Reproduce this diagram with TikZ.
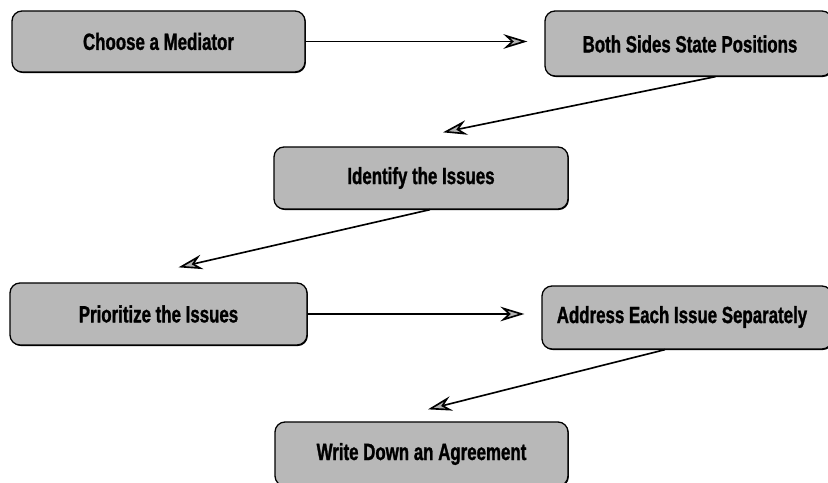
\documentclass[tikz,border=0pt]{standalone}
\usepackage{fontspec}
\newfontfamily\boxfont[FakeStretch=0.72,FakeBold=1.2]{Liberation Sans}
\usetikzlibrary{arrows.meta,calc,shadows}
\begin{document}
\begin{tikzpicture}[x=0.03cm,y=-0.03cm,
  boxtext/.style={font=\boxfont\bfseries\fontsize{20}{23}\selectfont},
  stepbox/.style={draw=black, line width=1.1pt, fill=black!28, rounded corners=0.3cm,
    drop shadow={shadow xshift=0.7pt, shadow yshift=-0.9pt, fill=black, opacity=1},
    boxtext, inner sep=0pt},
  flow/.style={line width=1.4pt, -{Stealth[length=0.72cm, width=0.44cm, inset=0.24cm, fill=black!30]}}]
\useasboundingbox (0,0) rectangle (828,483);
\node[stepbox, minimum width=293*0.03cm, minimum height=61*0.03cm] (b1) at (158.5,41.5) {Choose a Mediator};
\node[stepbox, minimum width=287*0.03cm, minimum height=65*0.03cm] (b2) at (688.5,43.5) {};
\node[boxtext] (t2) at (690,44) {Both Sides State Positions};
\node[stepbox, minimum width=294*0.03cm, minimum height=62*0.03cm] (b3) at (421,178) {Identify the Issues};
\node[stepbox, minimum width=297*0.03cm, minimum height=62*0.03cm] (b4) at (158.5,314) {Prioritize the Issues};
\node[stepbox, minimum width=290*0.03cm, minimum height=63*0.03cm] (b5) at (687,317.5) {};
\node[boxtext] (t5) at (682,317) {Address Each Issue Separately};
\node[stepbox, minimum width=293*0.03cm, minimum height=64*0.03cm] (b6) at (421.5,454) {Write Down an Agreement};
\draw[flow] (b1.east) -- ($(b2.west |- b1.east)+(-17,0)$);
\draw[flow] ($(b2.south)+(27,0)$) -- ($(b3.north)+(22,-14)$);
\draw[flow] ($(b3.south)+(9,0)$) -- ($(b4.north)+(20,-15)$);
\draw[flow] (b4.east) -- ($(b5.west |- b4.east)+(-17,0)$);
\draw[flow] ($(b5.south)+(-22,0)$) -- ($(b6.north)+(6.5,-12)$);
\end{tikzpicture}
\end{document}
